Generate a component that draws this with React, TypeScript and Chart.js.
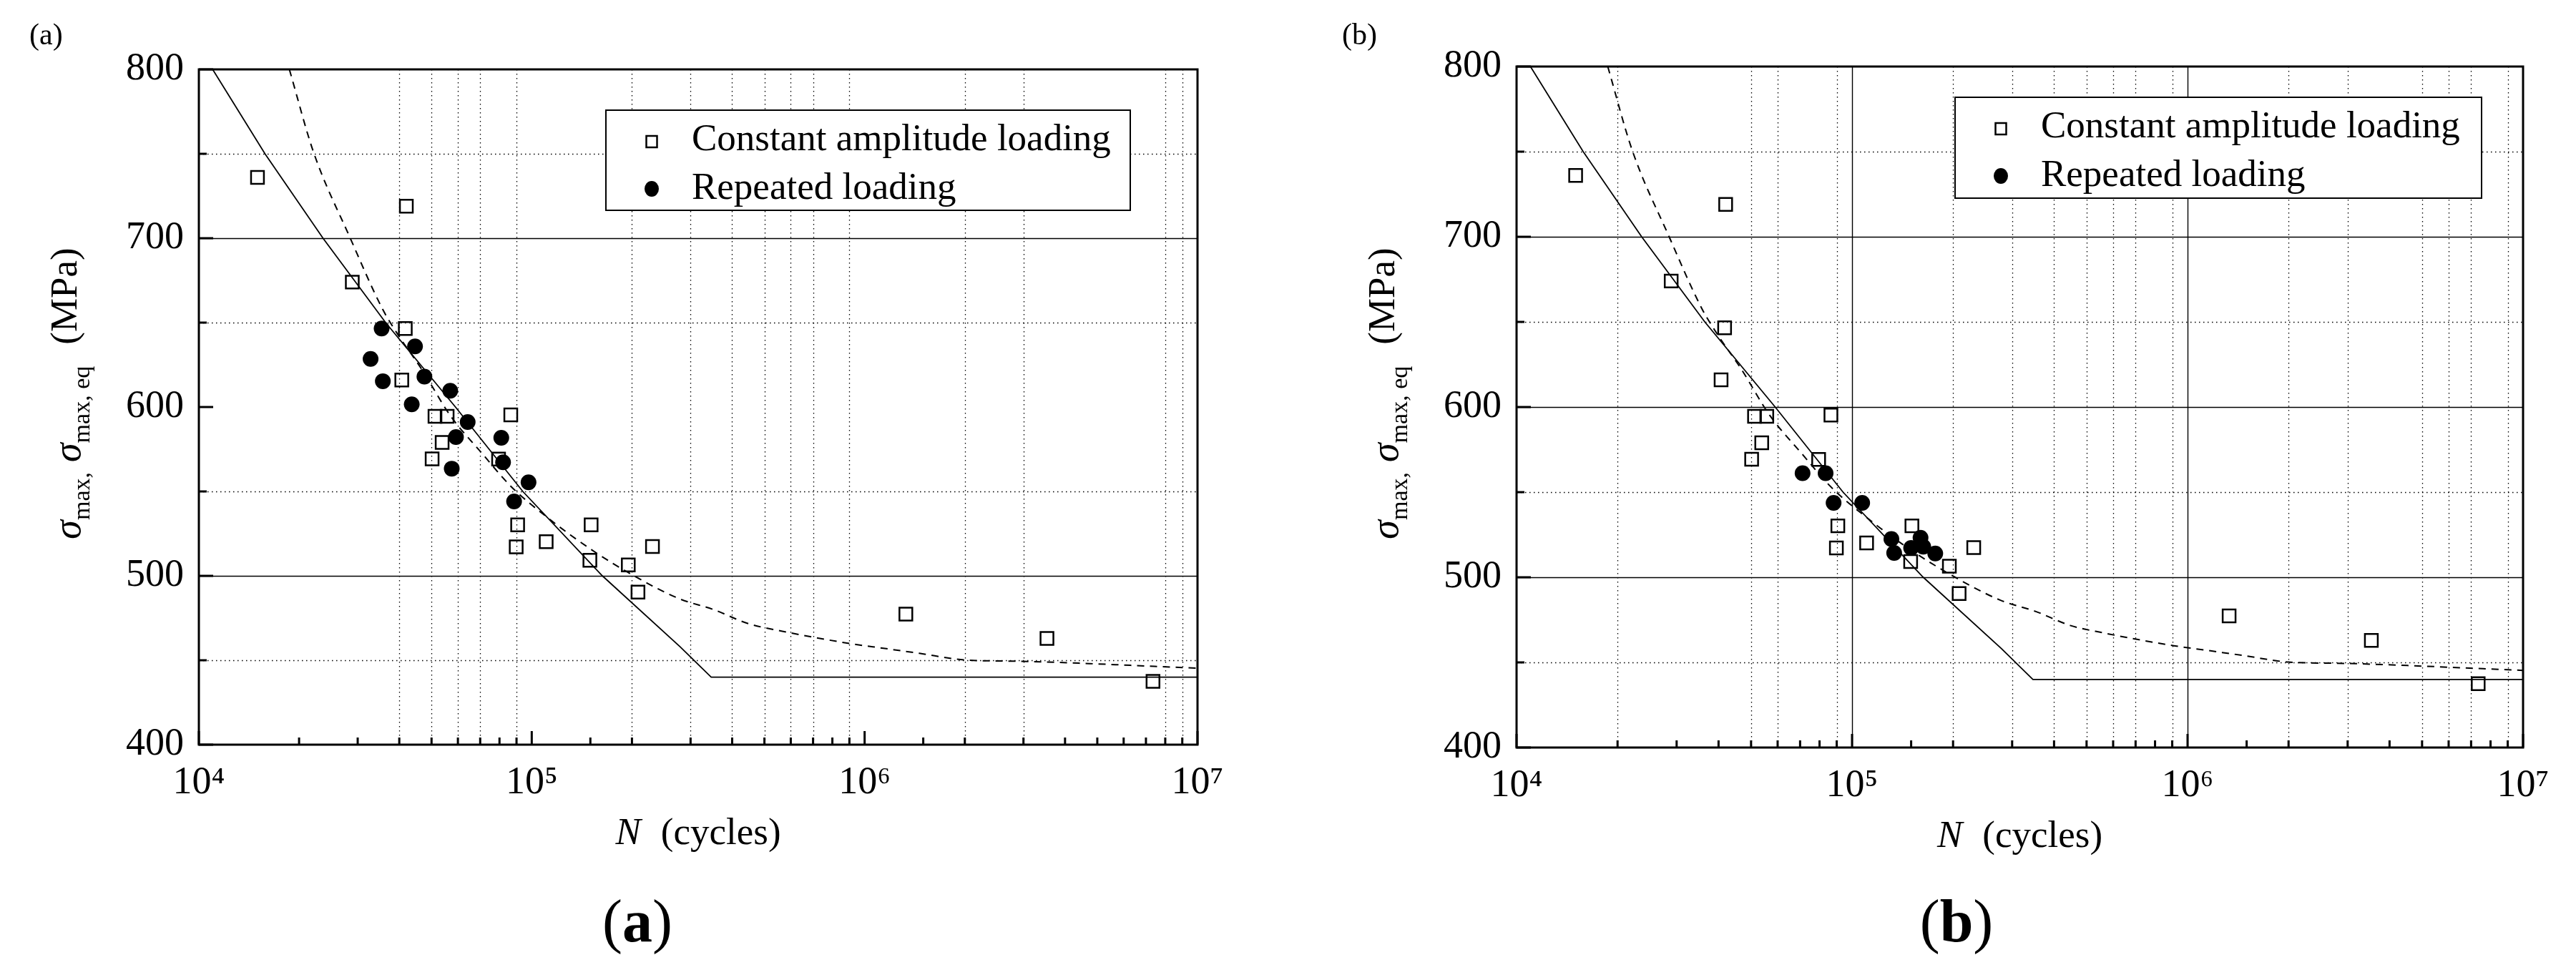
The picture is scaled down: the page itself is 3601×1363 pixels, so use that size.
import React, { useEffect, useRef } from "react";
import { Chart, registerables } from "chart.js";

Chart.register(...registerables);

const FONT = "'Liberation Serif', 'Times New Roman', Times, serif";

// ---- axes ----
const xMin = 1e4;
const xMax = 1e7;
const yMin = 400;
const yMax = 800;
const yStep = 100;
const yMinorTicks = [450, 550, 650, 750];

// ---- constant amplitude loading (same in both panels) ----
const constN = [1.5e4, 4.2e4, 2.89e4, 4.17e4, 4.07e4, 5.12e4, 5.57e4, 8.65e4, 5.38e4, 5.02e4, 7.95e4, 9.07e4, 1.508e5, 8.98e4, 1.105e5, 1.495e5, 1.95e5, 2.305e5, 2.085e5, 1.33e6, 3.53e6, 7.35e6];
const constS = [736, 719, 674, 646.5, 616, 594.5, 594.5, 595.3, 579, 569.3, 569.2, 530.2, 530.2, 517.2, 520.2, 509.2, 506.5, 517.4, 490.4, 477.3, 462.9, 437.5];

// ---- repeated loading, panel (a) ----
const repAN = [3.28e4, 3.54e4, 3.57e4, 4.46e4, 4.36e4, 4.76e4, 5.69e4, 5.75e4, 5.92e4, 6.42e4, 8.1e4, 8.2e4, 8.85e4, 9.78e4];
const repAS = [628.5, 646.5, 615.3, 635.9, 601.6, 618, 609.6, 563.5, 582.2, 591.1, 581.8, 567.3, 544.1, 555.4];

// ---- repeated loading, panel (b) ----
const repBN = [7.12e4, 8.34e4, 8.81e4, 1.072e5, 1.31e5, 1.335e5, 1.5e5, 1.6e5, 1.63e5, 1.77e5];
const repBS = [561.1, 561.1, 543.7, 543.7, 522.5, 514.3, 517.2, 523.2, 518, 514];

// ---- S-N curves ----
const solidN = [1.1e4, 1.58e4, 2.36e4, 3.64e4, 5.9e4, 9.4e4, 1.63e5, 2.79e5, 3.46e5, 1e7];
const solidS = [800, 750, 700, 650, 600, 550, 500, 458, 440, 440];
const dashN = [1.87e4, 2.21e4, 2.85e4, 3.57e4, 3.99e4, 4.66e4, 5.69e4, 7.1e4, 8.66e4, 1.104e5, 1.506e5, 2.05e5, 2.77e5, 3.53e5, 4.47e5, 5.66e5, 7.17e5, 9.1e5, 1.15e6, 1.46e6, 2.0e6, 2.96e6, 4.75e6, 7.6e6, 1e7];
const dashS = [800, 751, 700, 657.7, 642, 622.7, 595, 572.4, 553, 535.2, 515.7, 499.5, 486.5, 479.9, 471.7, 467.2, 463.3, 459.8, 457, 454.1, 450.2, 449.4, 448, 446.3, 445.3];

const legendLabels = ["Constant amplitude loading", "Repeated loading"];

// ---- gridlines ----
const gridAhSolid = [500, 700];
const gridAhDotted = [450, 550, 650, 750];
const gridAvSolid: number[] = [];
const gridAvDotted = [4e4, 5e4, 6e4, 7e4, 9e4, 2e5, 3e5, 4e5, 5e5, 6e5, 7e5, 9e5, 2e6, 3e6, 8e6, 9e6];
const gridBhSolid = [500, 600, 700];
const gridBhDotted = [450, 550, 650, 750];
const gridBvSolid = [1e5, 1e6];
const gridBvDotted = [2e4, 5e4, 6e4, 9e4, 2e5, 3e5, 4e5, 5e5, 6e5, 7e5, 9e5, 2e6, 3e6, 5e6, 6e6, 7e6, 9e6];

// ---- layout (positions only) ----
const CW = 1800;
const CH = 1363;
const layoutA = { canvasLeft: 0, left: 278, right: 1674, top: 97, bottom: 1041, legend: { x: 847, y: 154, w: 733, h: 140 }, cornerX: 41, captionX: 891 };
const layoutB = { canvasLeft: 1800, left: 320, right: 1727, top: 93, bottom: 1045, legend: { x: 933, y: 136, w: 736, h: 141 }, cornerX: 76, captionX: 935 };

const isPow10 = (v: number) => Math.abs(Math.log10(v) - Math.round(Math.log10(v))) < 1e-9;
const SUP: Record<string, string> = { "0": "⁰", "1": "¹", "2": "²", "3": "³", "4": "⁴", "5": "⁵", "6": "⁶", "7": "⁷", "8": "⁸", "9": "⁹" };

function makeDecor(L: any, G: any, letter: string) {
  return {
    id: "decor" + letter,
    beforeDatasetsDraw(chart: any) {
      const { ctx, chartArea: a } = chart;
      const xs = chart.scales.x;
      const ys = chart.scales.y;
      ctx.save();
      ctx.beginPath();
      ctx.rect(a.left, a.top, a.right - a.left, a.bottom - a.top);
      ctx.clip();
      ctx.strokeStyle = "#000";
      const h = (v: number) => {
        const p = Math.round(ys.getPixelForValue(v)) + 0.5;
        ctx.beginPath();
        ctx.moveTo(a.left, p);
        ctx.lineTo(a.right, p);
        ctx.stroke();
      };
      const vl = (v: number) => {
        const p = Math.round(xs.getPixelForValue(v)) + 0.5;
        ctx.beginPath();
        ctx.moveTo(p, a.top);
        ctx.lineTo(p, a.bottom);
        ctx.stroke();
      };
      ctx.lineWidth = 1.4;
      ctx.setLineDash([]);
      G.hSolid.forEach(h);
      G.vSolid.forEach(vl);
      ctx.lineWidth = 1.3;
      ctx.setLineDash([1.5, 4.5]);
      G.hDotted.forEach(h);
      G.vDotted.forEach(vl);
      ctx.restore();
    },
    afterDatasetsDraw(chart: any) {
      const { ctx, chartArea: a } = chart;
      const xs = chart.scales.x;
      const ys = chart.scales.y;
      ctx.save();
      ctx.strokeStyle = "#000";
      ctx.setLineDash([]);
      ctx.lineWidth = 3;
      ctx.lineCap = "butt";
      // inward ticks, x
      xs.ticks.forEach((t: any) => {
        const px = xs.getPixelForValue(t.value);
        const len = isPow10(t.value) ? 19 : 10;
        ctx.beginPath();
        ctx.moveTo(px, a.bottom);
        ctx.lineTo(px, a.bottom - len);
        ctx.stroke();
      });
      // inward ticks, y
      ys.ticks.forEach((t: any) => {
        const py = ys.getPixelForValue(t.value);
        ctx.beginPath();
        ctx.moveTo(a.left, py);
        ctx.lineTo(a.left + 20, py);
        ctx.stroke();
      });
      yMinorTicks.forEach((v) => {
        const py = ys.getPixelForValue(v);
        ctx.beginPath();
        ctx.moveTo(a.left, py);
        ctx.lineTo(a.left + 11, py);
        ctx.stroke();
      });
      // frame
      ctx.lineWidth = 3;
      ctx.strokeRect(a.left, a.top, a.right - a.left, a.bottom - a.top);

      // legend
      const lg = L.legend;
      ctx.fillStyle = "#fff";
      ctx.fillRect(lg.x, lg.y, lg.w, lg.h);
      ctx.lineWidth = 2;
      ctx.strokeRect(lg.x, lg.y, lg.w, lg.h);
      const ds0 = chart.data.datasets[0];
      const ds1 = chart.data.datasets[1];
      // square marker
      ctx.lineWidth = 2.5;
      ctx.strokeStyle = ds0.borderColor;
      ctx.strokeRect(lg.x + 64 - 7.5, lg.y + 44 - 8, 15, 16);
      // circle marker
      ctx.fillStyle = ds1.backgroundColor;
      ctx.beginPath();
      ctx.ellipse(lg.x + 64, lg.y + 110, 10, 11, 0, 0, Math.PI * 2);
      ctx.fill();
      ctx.fillStyle = "#000";
      ctx.font = `53px ${FONT}`;
      ctx.textAlign = "left";
      ctx.textBaseline = "alphabetic";
      ctx.fillText(ds0.label, lg.x + 120, lg.y + 56);
      ctx.fillText(ds1.label, lg.x + 120, lg.y + 124);
      ctx.restore();
    },
    afterDraw(chart: any) {
      const { ctx, chartArea: a } = chart;
      ctx.save();
      ctx.fillStyle = "#000";
      ctx.textBaseline = "alphabetic";
      ctx.textAlign = "left";

      // y-axis title (rotated)
      const segs: any[] = [
        { t: "σ", font: `italic 54px ${FONT}`, dv: 5 },
        { t: "max,", font: `34px ${FONT}`, dv: 18 },
        { gap: 14 },
        { t: "σ", font: `italic 54px ${FONT}`, dv: 5 },
        { t: "max, eq", font: `34px ${FONT}`, dv: 18 },
        { gap: 30 },
        { t: "(MPa)", font: `53px ${FONT}`, dv: 0 },
      ];
      let total = 0;
      segs.forEach((s) => {
        if (s.gap) { s.w = s.gap; } else { ctx.font = s.font; s.w = ctx.measureText(s.t).width; }
        total += s.w;
      });
      ctx.save();
      ctx.translate(a.left - 171, (a.top + a.bottom) / 2 - 19);
      ctx.rotate(-Math.PI / 2);
      let u = -total / 2;
      segs.forEach((s) => {
        if (!s.gap) { ctx.font = s.font; ctx.fillText(s.t, u, s.dv); }
        u += s.w;
      });
      ctx.restore();

      // x-axis title
      ctx.font = `italic 53px ${FONT}`;
      const wN = ctx.measureText("N").width;
      ctx.font = `53px ${FONT}`;
      const wC = ctx.measureText("(cycles)").width;
      const gapN = 28;
      const cx = (a.left + a.right) / 2;
      let sx = cx - (wN + gapN + wC) / 2;
      const by = a.bottom + 139;
      ctx.font = `italic 53px ${FONT}`;
      ctx.fillText("N", sx, by);
      ctx.font = `53px ${FONT}`;
      ctx.fillText("(cycles)", sx + wN + gapN, by);

      // corner label
      ctx.font = `42px ${FONT}`;
      ctx.fillText(`(${letter})`, L.cornerX, 62);

      // caption
      ctx.font = `84px ${FONT}`;
      const wp1 = ctx.measureText("(").width;
      const wp2 = ctx.measureText(")").width;
      ctx.font = `bold 84px ${FONT}`;
      const wl = ctx.measureText(letter).width;
      let cxs = L.captionX - (wp1 + wl + wp2) / 2;
      const cy = 1316;
      ctx.font = `84px ${FONT}`;
      ctx.fillText("(", cxs, cy);
      ctx.font = `bold 84px ${FONT}`;
      ctx.fillText(letter, cxs + wp1, cy);
      ctx.font = `84px ${FONT}`;
      ctx.fillText(")", cxs + wp1 + wl, cy);
      ctx.restore();
    },
  };
}

function Panel(props: any) {
  const { L, G, repN, repS, letter } = props;
  const ref = useRef<HTMLCanvasElement>(null);
  useEffect(() => {
    const canvas = ref.current as HTMLCanvasElement;
    const pts = (xs: number[], ys: number[]) => xs.map((x, i) => ({ x, y: ys[i] }));
    const chart = new Chart(canvas, {
      type: "scatter",
      data: {
        datasets: [
          {
            label: legendLabels[0],
            data: pts(constN, constS),
            pointStyle: "rect",
            pointRadius: 12.7,
            pointBorderWidth: 2.5,
            borderColor: "#000",
            backgroundColor: "rgba(0,0,0,0)",
            showLine: false,
          },
          {
            label: legendLabels[1],
            data: pts(repN, repS),
            pointStyle: "circle",
            pointRadius: 11,
            pointBorderWidth: 0,
            borderColor: "#000",
            backgroundColor: "#000",
            showLine: false,
          },
          {
            label: "S-N curve",
            data: pts(solidN, solidS),
            showLine: true,
            pointRadius: 0,
            borderColor: "#000",
            borderWidth: 1.8,
            tension: 0,
          },
          {
            label: "S-N curve (dashed)",
            data: pts(dashN, dashS),
            showLine: true,
            pointRadius: 0,
            borderColor: "#000",
            borderWidth: 2,
            borderDash: [10, 8],
            cubicInterpolationMode: "monotone",
          },
        ],
      } as any,
      options: {
        responsive: false,
        animation: false,
        events: [],
        layout: { padding: { left: 0, top: L.top, right: CW - L.right, bottom: CH - L.bottom - 100 } },
        plugins: { legend: { display: false }, tooltip: { enabled: false }, title: { display: false } },
        scales: {
          x: {
            type: "logarithmic",
            min: xMin,
            max: xMax,
            grid: { display: false, drawTicks: false },
            border: { display: false },
            afterFit: (s: any) => { s.height = 100; },
            ticks: {
              autoSkip: false,
              maxRotation: 0,
              minRotation: 0,
              padding: 21,
              color: "#000",
              font: { family: FONT, size: 54 },
              callback: (v: any) => {
                const n = Number(v);
                if (!isPow10(n)) return "";
                const e = String(Math.round(Math.log10(n)));
                return "10" + e.split("").map((c) => SUP[c]).join("");
              },
            },
          },
          y: {
            type: "linear",
            min: yMin,
            max: yMax,
            grid: { display: false, drawTicks: false },
            border: { display: false },
            afterFit: (s: any) => { s.width = L.left; },
            ticks: {
              stepSize: yStep,
              padding: 21,
              color: "#000",
              font: { family: FONT, size: 54 },
            },
          },
        },
      } as any,
      plugins: [makeDecor(L, G, letter)],
    });
    return () => chart.destroy();
  }, []);
  return (
    <canvas
      ref={ref}
      width={CW}
      height={CH}
      style={{ position: "absolute", left: L.canvasLeft, top: 0, width: CW, height: CH }}
    />
  );
}

export default function App() {
  const GA = { hSolid: gridAhSolid, hDotted: gridAhDotted, vSolid: gridAvSolid, vDotted: gridAvDotted };
  const GB = { hSolid: gridBhSolid, hDotted: gridBhDotted, vSolid: gridBvSolid, vDotted: gridBvDotted };
  return (
    <div style={{ position: "absolute", left: 0, top: 0, width: 3601, height: 1363, background: "#fff", overflow: "hidden" }}>
      <Panel L={layoutA} G={GA} repN={repAN} repS={repAS} letter="a" />
      <Panel L={layoutB} G={GB} repN={repBN} repS={repBS} letter="b" />
    </div>
  );
}
